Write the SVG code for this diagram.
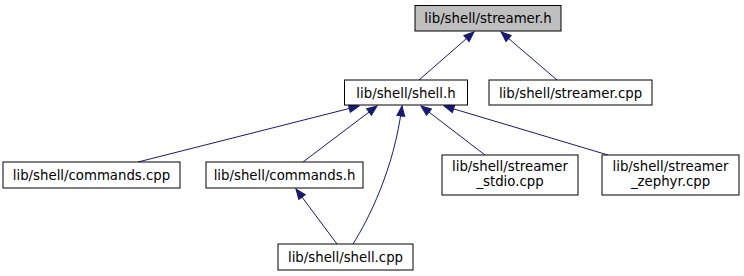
<svg xmlns="http://www.w3.org/2000/svg" width="744" height="276" viewBox="0 0 744 276">
  <style>
    .node rect { fill: #ffffff; stroke: #000000; stroke-width: 1; }
    .node.root rect { fill: #bfbfbf; stroke: #000000; }
    .node text { font-family: "DejaVu Sans", sans-serif; font-size: 13.3px; fill: #000000; text-anchor: middle; }
    .edge { fill: none; stroke: #191970; stroke-width: 1; marker-end: url(#arrow); }
  </style>
  <defs>
    <marker id="arrow" markerUnits="userSpaceOnUse" markerWidth="12" markerHeight="10" refX="11" refY="5" orient="auto">
      <path d="M1,1 L11,5 L1,9 Z" fill="#191970" stroke="#191970" stroke-width="1"/>
    </marker>
  </defs>
  <rect width="744" height="276" fill="#ffffff"/>

  <g id="edges">
    <path class="edge" d="M419,80 L474,32"/>
    <path class="edge" d="M557,80 L501,32"/>
    <path class="edge" d="M138,162 L359,106"/>
    <path class="edge" d="M303,162 L377,106"/>
    <path class="edge" d="M353,244 C368,220 394,170 402,106"/>
    <path class="edge" d="M485,155 L421,106"/>
    <path class="edge" d="M608,155 L444,106"/>
    <path class="edge" d="M337,244 L296,189"/>
  </g>

  <g id="node-streamer-h" class="node root">
    <rect x="415" y="5.5" width="146" height="25.5"/>
    <text x="488" y="23.3">lib/shell/streamer.h</text>
  </g>
  <g id="node-shell-h" class="node">
    <rect x="344.5" y="80" width="123" height="25"/>
    <text x="406" y="98">lib/shell/shell.h</text>
  </g>
  <g id="node-streamer-cpp" class="node">
    <rect x="489" y="80" width="163" height="25"/>
    <text x="570.5" y="98">lib/shell/streamer.cpp</text>
  </g>
  <g id="node-commands-cpp" class="node">
    <rect x="3" y="162" width="177" height="26"/>
    <text x="91.5" y="180">lib/shell/commands.cpp</text>
  </g>
  <g id="node-commands-h" class="node">
    <rect x="206" y="162" width="157" height="26"/>
    <text x="284.5" y="180">lib/shell/commands.h</text>
  </g>
  <g id="node-streamer-stdio" class="node">
    <rect x="442" y="155" width="136" height="40"/>
    <text x="510" y="171.3">lib/shell/streamer</text>
    <text x="510" y="186.3">_stdio.cpp</text>
  </g>
  <g id="node-streamer-zephyr" class="node">
    <rect x="602" y="155" width="137" height="40"/>
    <text x="670.5" y="171.3">lib/shell/streamer</text>
    <text x="670.5" y="186.3">_zephyr.cpp</text>
  </g>
  <g id="node-shell-cpp" class="node">
    <rect x="278" y="244" width="135" height="26"/>
    <text x="345.5" y="262">lib/shell/shell.cpp</text>
  </g>
</svg>
